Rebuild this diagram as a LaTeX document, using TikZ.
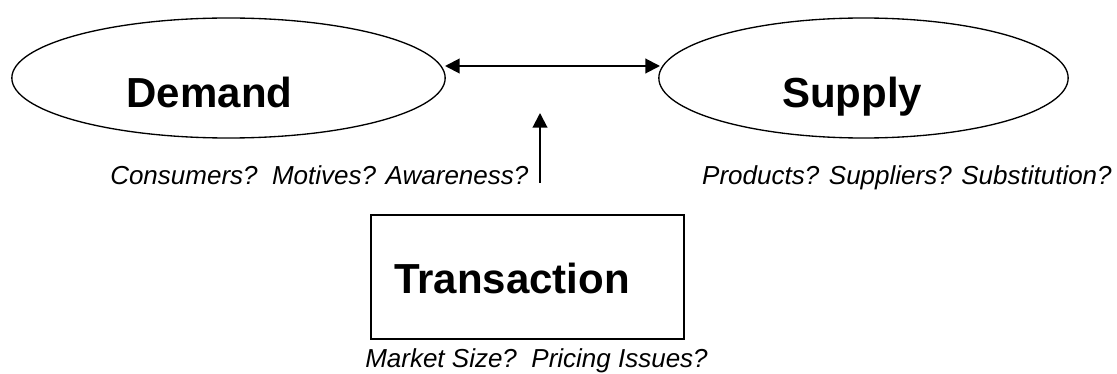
\documentclass[tikz,border=0pt]{standalone}
\usepackage{fontspec}
\setmainfont{Liberation Sans}
\usetikzlibrary{arrows.meta,shapes.geometric}
\tikzset{bubble/.style={draw, ellipse, line width=1pt, minimum height=90pt, inner sep=0pt},
 bigword/.style={font=\fontsize{31.5}{36}\selectfont\bfseries, inner sep=0pt, anchor=base},
 question/.style={font=\fontsize{19.5}{22}\selectfont\itshape, inner sep=0pt},
 link/.style={line width=1.5pt, -{Triangle[length=11pt,width=11pt]}}}

\begin{document}
\begin{tikzpicture}[x=0.75pt,y=-0.75pt]
\useasboundingbox (0,0) rectangle (1117,374);
% the two sides of the market
\node[bubble, minimum width=325pt] (demand) at (228.5,78) {};
\node[bubble, minimum width=307pt] (supply) at (863.5,78) {};
\node[bigword] (demandname) at (209.5,108) {Demand};
\node[bigword] (supplyname) at (852,108) {Supply};
\node[question, anchor=base west] (demandq) at (110,185) {Consumers?\ \ Motives? Awareness?};
\node[question, anchor=base east] (supplyq) at (1112,185) {Products? Suppliers? Substitution?};
% where they meet
\node[draw, line width=1.5pt, minimum width=234.75pt, minimum height=93pt, inner sep=0pt] (deal) at (527.5,277) {};
\node[bigword] (dealname) at (512,293) {Transaction};
\node[question, anchor=base west] (dealq) at (365,367) {Market Size?\ \ Pricing Issues?};
% arrows
\coordinate (leftend) at (445,66);
\coordinate (rightend) at (660,66);
\coordinate (upfoot) at (540,183);
\coordinate (uptip) at (540,113);
\draw[link, {Triangle[length=11pt,width=11pt]}-{Triangle[length=11pt,width=11pt]}] (leftend) -- (rightend);
\draw[link] (upfoot) -- (uptip);
\end{tikzpicture}
\end{document}
